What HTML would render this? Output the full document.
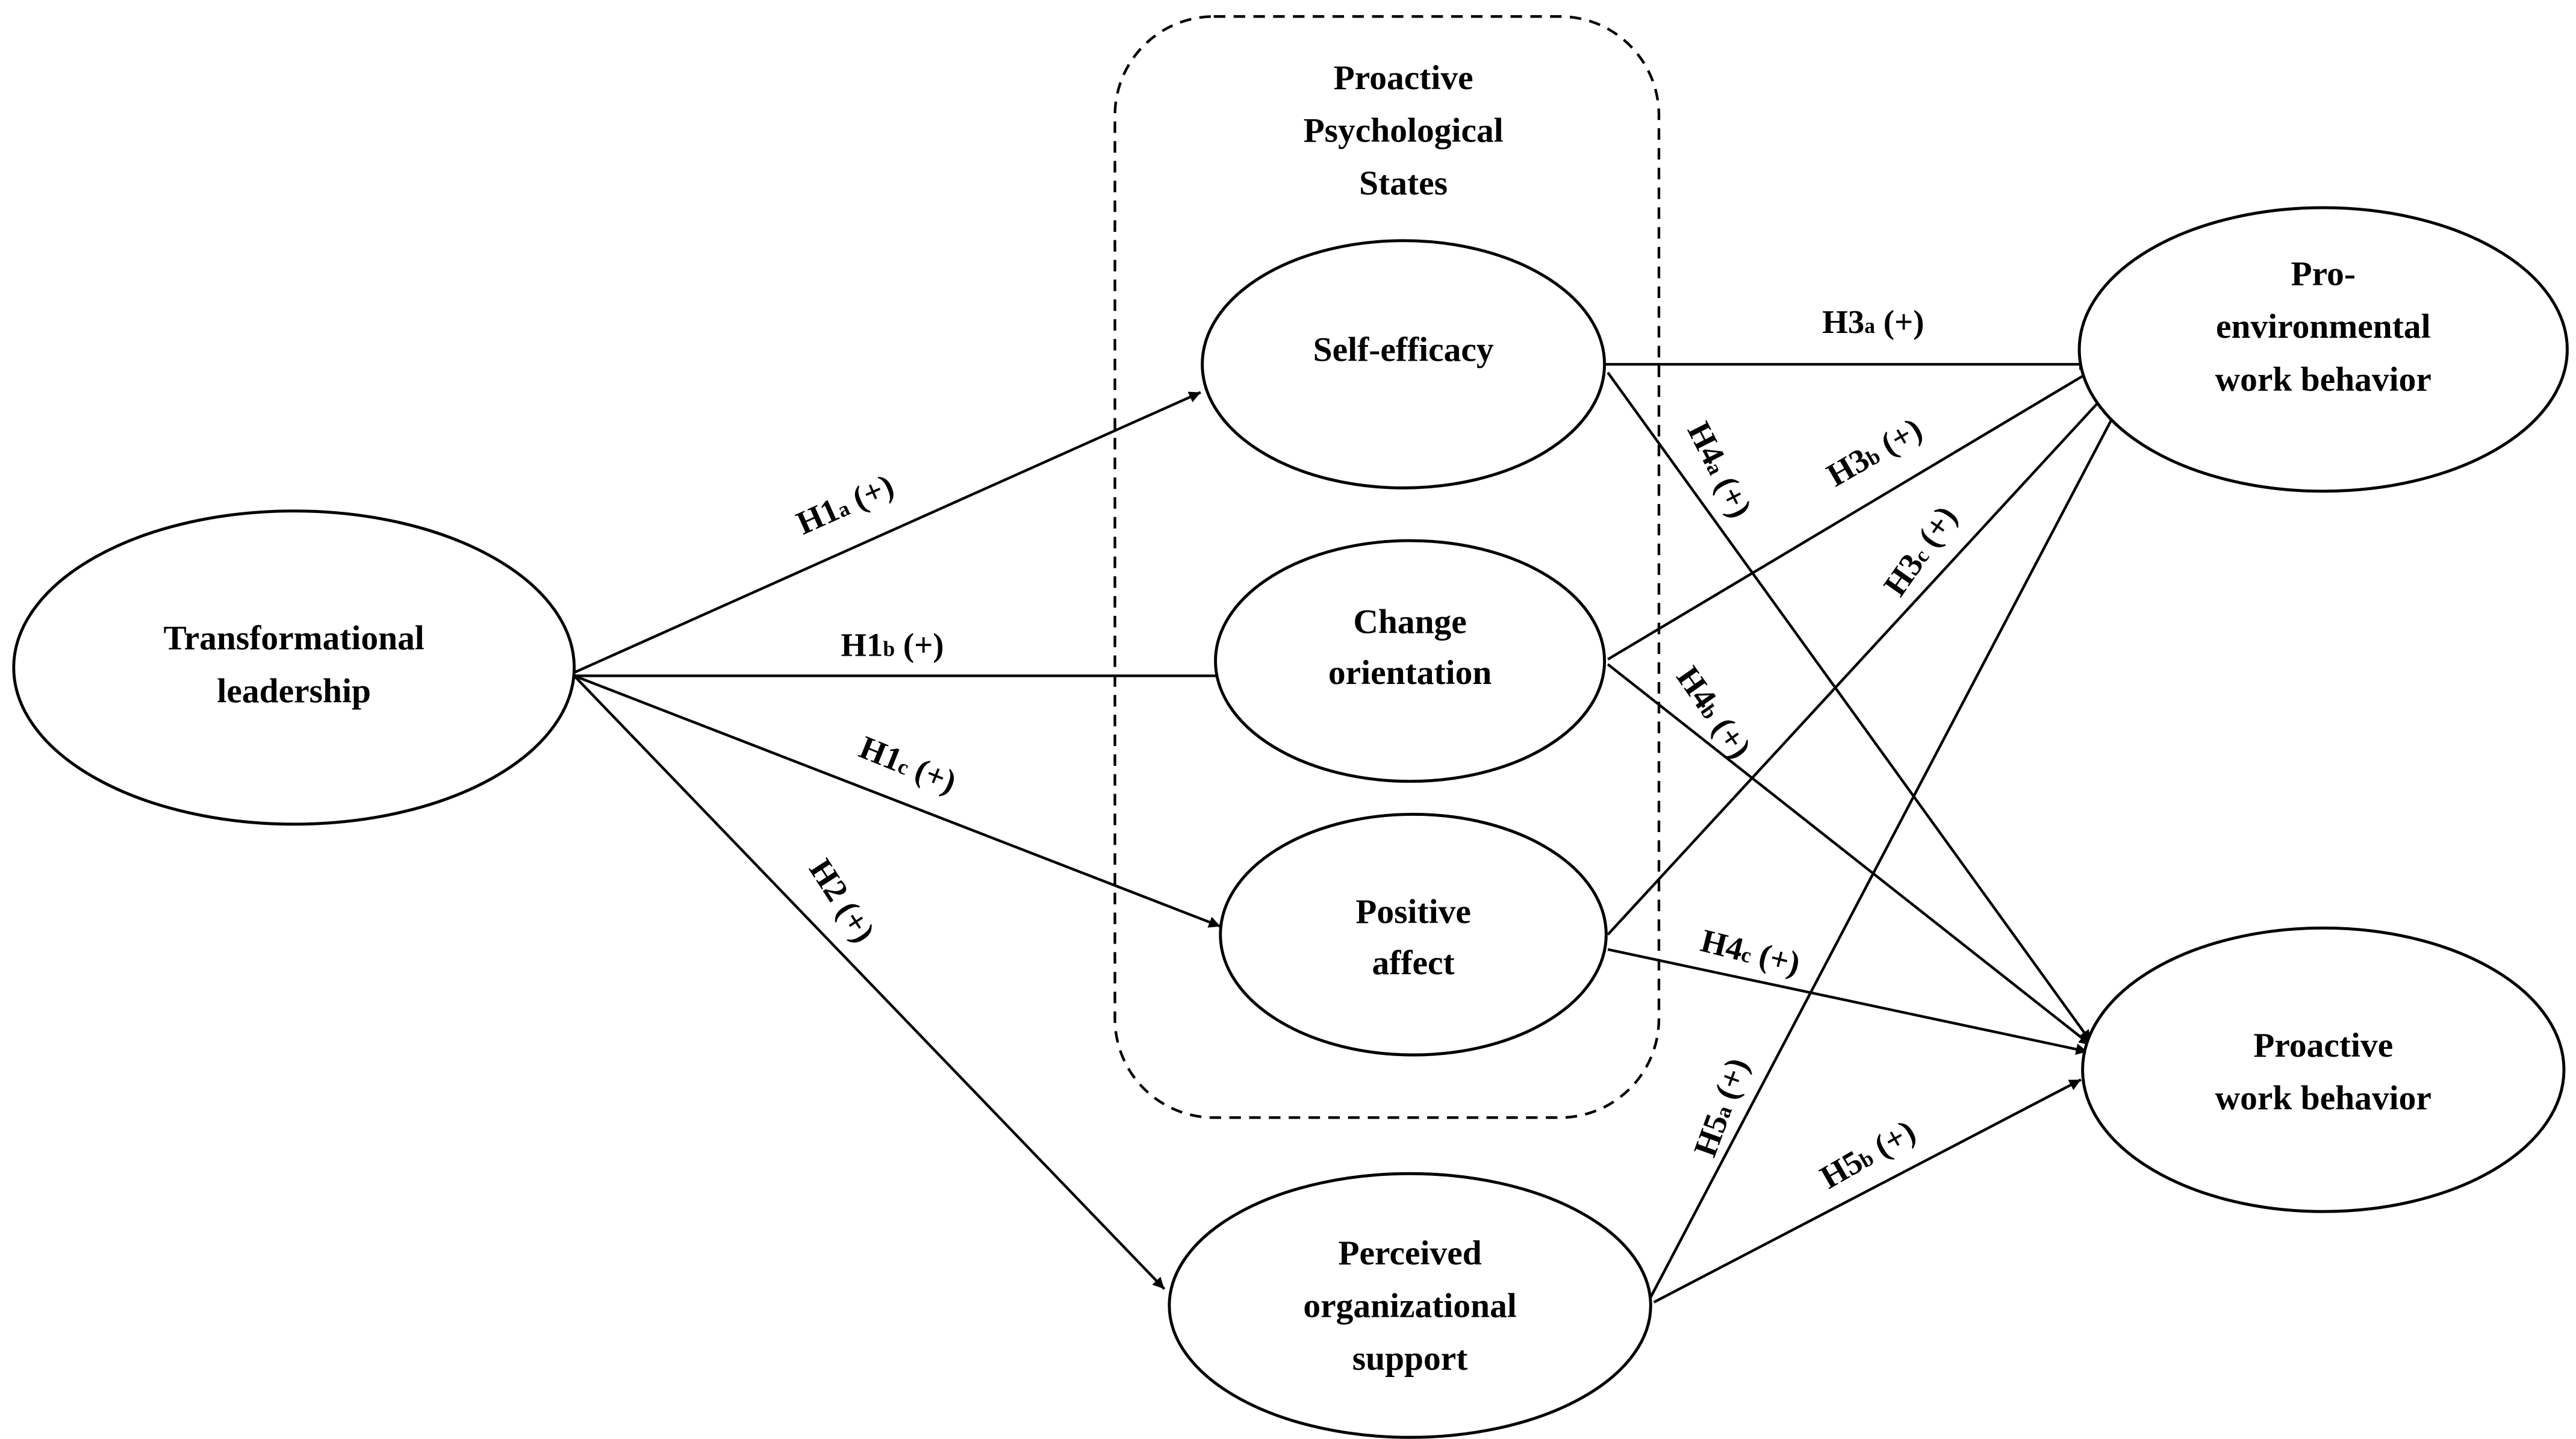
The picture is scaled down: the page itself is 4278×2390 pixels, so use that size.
<!DOCTYPE html>
<html><head><meta charset="utf-8">
<style>
html,body{margin:0;padding:0;background:#fff;}
svg{display:block;}
text{font-family:"Liberation Serif",serif;font-weight:bold;fill:#000;}
</style></head>
<body>
<svg width="4278" height="2390" viewBox="0 0 1562 873" xmlns="http://www.w3.org/2000/svg">
<defs>
<marker id="ar" viewBox="0 0 10 10" refX="10" refY="5" markerWidth="7" markerHeight="7" markerUnits="userSpaceOnUse" orient="auto">
<path d="M0,0 L10,5 L0,10 z" fill="#000"/>
</marker>
<style>
.l{stroke:#000;stroke-width:1.6;fill:none;marker-end:url(#ar);}
.e{stroke:#000;stroke-width:1.8;fill:#fff;}
.t{font-size:21px;text-anchor:middle;}
.h{font-size:20px;text-anchor:middle;}
.s{font-size:13px;}
</style>
</defs>
<rect x="676" y="10" width="330" height="668" rx="60" ry="60" fill="none" stroke="#000" stroke-width="1.6" stroke-dasharray="7,5"/>
<text class="t" x="851" y="54">Proactive</text>
<text class="t" x="851" y="86">Psychological</text>
<text class="t" x="851" y="118">States</text>

<line class="l" x1="348" y1="408" x2="728" y2="238"/>
<line class="l" x1="348" y1="410" x2="745" y2="410"/>
<line class="l" x1="348" y1="410" x2="740" y2="562"/>
<line class="l" x1="348" y1="410" x2="706" y2="782"/>
<line class="l" x1="973" y1="221" x2="1268" y2="221"/>
<line class="l" x1="975" y1="226" x2="1268" y2="632"/>
<line class="l" x1="975" y1="400" x2="1270" y2="224"/>
<line class="l" x1="975" y1="403" x2="1268" y2="634"/>
<line class="l" x1="975" y1="567" x2="1280" y2="236"/>
<line class="l" x1="975" y1="576" x2="1266" y2="638"/>
<line class="l" x1="1001" y1="787" x2="1284" y2="248"/>
<line class="l" x1="1003" y1="790" x2="1262" y2="655"/>

<ellipse class="e" cx="178" cy="405" rx="170" ry="95"/>
<ellipse class="e" cx="851" cy="221" rx="122" ry="75"/>
<ellipse class="e" cx="855" cy="401" rx="118" ry="73"/>
<ellipse class="e" cx="857" cy="567" rx="117" ry="73"/>
<ellipse class="e" cx="855" cy="792" rx="146" ry="80"/>
<ellipse class="e" cx="1409" cy="212" rx="148" ry="86"/>
<ellipse class="e" cx="1409" cy="649" rx="146" ry="86"/>

<text class="t" x="178" y="394">Transformational</text>
<text class="t" x="178" y="426">leadership</text>
<text class="t" x="851" y="219">Self-efficacy</text>
<text class="t" x="855" y="384">Change</text>
<text class="t" x="855" y="415">orientation</text>
<text class="t" x="857" y="560">Positive</text>
<text class="t" x="857" y="591">affect</text>
<text class="t" x="855" y="767">Perceived</text>
<text class="t" x="855" y="799">organizational</text>
<text class="t" x="855" y="831">support</text>
<text class="t" x="1409" y="173">Pro-</text>
<text class="t" x="1409" y="205">environmental</text>
<text class="t" x="1409" y="237">work behavior</text>
<text class="t" x="1409" y="641">Proactive</text>
<text class="t" x="1409" y="673">work behavior</text>

<text class="h" transform="translate(515,312) rotate(-24)">H1<tspan class="s">a</tspan> (+)</text>
<text class="h" x="541" y="398">H1<tspan class="s">b</tspan> (+)</text>
<text class="h" transform="translate(548,470) rotate(22)">H1<tspan class="s">c</tspan> (+)</text>
<text class="h" transform="translate(505,550) rotate(57)">H2 (+)</text>
<text class="h" x="1136" y="202">H3<tspan class="s">a</tspan> (+)</text>
<text class="h" transform="translate(1037,288) rotate(63)">H4<tspan class="s">a</tspan> (+)</text>
<text class="h" transform="translate(1140,280) rotate(-30)">H3<tspan class="s">b</tspan> (+)</text>
<text class="h" transform="translate(1170,338) rotate(-55)">H3<tspan class="s">c</tspan> (+)</text>
<text class="h" transform="translate(1034,436) rotate(55)">H4<tspan class="s">b</tspan> (+)</text>
<text class="h" transform="translate(1060,584) rotate(14)">H4<tspan class="s">c</tspan> (+)</text>
<text class="h" transform="translate(1050,674) rotate(-70)">H5<tspan class="s">a</tspan> (+)</text>
<text class="h" transform="translate(1136,706) rotate(-30)">H5<tspan class="s">b</tspan> (+)</text>
</svg>
</body></html>
